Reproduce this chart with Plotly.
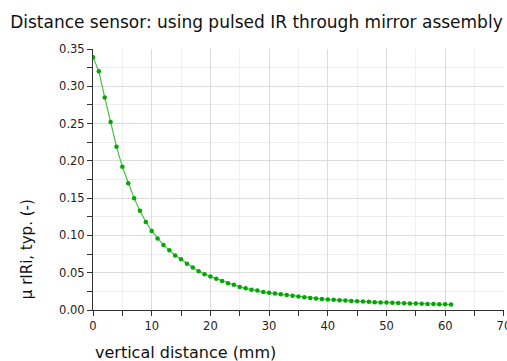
import plotly.graph_objects as go

distance_mm = list(range(0, 62))
response = [
    0.339, 0.320, 0.285, 0.252, 0.219, 0.192, 0.170, 0.150, 0.133, 0.118,
    0.106, 0.096, 0.087, 0.080, 0.073, 0.068, 0.062, 0.057, 0.052, 0.048,
    0.045, 0.042, 0.039, 0.036, 0.034, 0.031, 0.029, 0.027, 0.026, 0.024,
    0.023, 0.022, 0.021, 0.020, 0.019, 0.018, 0.017, 0.016, 0.0155, 0.0148,
    0.0142, 0.0136, 0.0131, 0.0126, 0.0121, 0.0117, 0.0113, 0.0109, 0.0105, 0.0102,
    0.0099, 0.0096, 0.0093, 0.0091, 0.0088, 0.0086, 0.0084, 0.0082, 0.0080, 0.0078,
    0.0076, 0.0074,
]

title_text = "Distance sensor: using pulsed IR through mirror assembly"
x_title = "vertical distance (mm)"
y_title = "μ rIRi, typ. (-)"

FONT = "DejaVu Sans"

fig = go.Figure()
fig.add_trace(go.Scatter(
    x=distance_mm, y=response, mode="lines+markers",
    line=dict(color="#44c444", width=1.2),
    marker=dict(symbol="circle", size=4.5, color="#00a800"),
    showlegend=False, hoverinfo="skip",
))

fig.update_layout(
    width=507, height=361,
    margin=dict(l=93, r=3, t=49, b=51, autoexpand=False),
    paper_bgcolor="white", plot_bgcolor="white",
    font=dict(family=FONT, size=11.5, color="#222222"),
    title=dict(text=title_text, x=0.02, xanchor="left", xref="container",
               y=0.939, yanchor="middle", yref="container",
               font=dict(family=FONT, size=17, color="#111111")),
    xaxis=dict(range=[0, 70.02], tickvals=[0, 10, 20, 30, 40, 50, 60, 70],
               ticklabeloverflow="allow", automargin=False,
               showline=True, linecolor="#333333",
               linewidth=1, ticks="outside", ticklen=5, tickcolor="#333333",
               showgrid=True, gridcolor="#dcdcdc", gridwidth=1, zeroline=False,
               minor=dict(dtick=5, tick0=0, ticks="outside", ticklen=5, tickcolor="#333333",
                          showgrid=True, gridcolor="#efefef"),
               tickfont=dict(family=FONT, size=11.5, color="#222222")),
    yaxis=dict(range=[0, 0.35], dtick=0.05, tick0=0, tickformat=".2f", showline=True,
               automargin=False,
               linecolor="#333333", linewidth=1, ticks="outside", ticklen=5,
               tickcolor="#333333", showgrid=True, gridcolor="#dcdcdc", gridwidth=1,
               zeroline=False,
               minor=dict(dtick=0.025, ticks="outside", ticklen=5, tickcolor="#333333",
                          showgrid=True, gridcolor="#efefef"),
               tickfont=dict(family=FONT, size=11.5, color="#222222")),
    annotations=[
        dict(text=x_title, xref="paper", yref="paper", x=0, y=-0.161,
             xanchor="left", yanchor="middle", showarrow=False,
             font=dict(family=FONT, size=16, color="#111111")),
        dict(text=y_title, xref="paper", yref="paper", x=-0.16, y=0.234,
             xanchor="center", yanchor="middle", textangle=-90, showarrow=False,
             font=dict(family=FONT, size=15, color="#111111")),
    ],
)

fig.write_html("out.html")
